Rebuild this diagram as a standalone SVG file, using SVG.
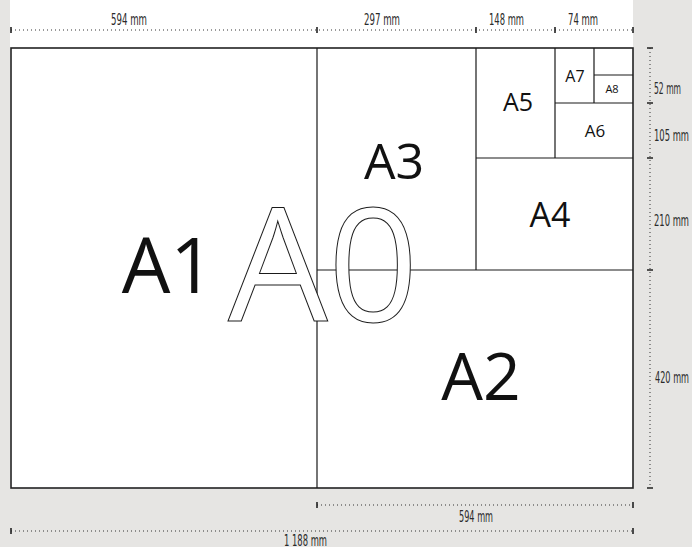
<svg xmlns="http://www.w3.org/2000/svg" width="692" height="547" viewBox="0 0 692 547">
<style>
.frame{fill:none;stroke:#222;stroke-width:1.6}
.div{stroke:#1a1a1a;stroke-width:1.2;fill:none}
.dot{stroke:#333;stroke-width:1;stroke-dasharray:1 3;fill:none}
.tick{stroke:#222;stroke-width:1.6}
.dim{font-family:"Liberation Sans Narrow","DejaVu Sans Condensed","DejaVu Sans",sans-serif;font-size:16px;fill:#2a2a2a}
.big{font-family:"Open Sans","Noto Sans",sans-serif;fill:#111;text-anchor:middle}
</style>
<rect x="0" y="0" width="692" height="547" fill="#e6e5e3"/>
<rect x="10" y="0" width="623" height="488" fill="#ffffff"/>
<g id="sheets">
<g id="A1"><text class="big" x="168" y="293" font-size="77">A1</text></g>
<g id="A3"><text class="big" x="394" y="179" font-size="50">A3</text></g>
<g id="A2"><text class="big" x="481" y="400" font-size="66">A2</text></g>
<g id="A4"><text class="big" x="550" y="227" font-size="34">A4</text></g>
<g id="A5"><text class="big" x="518" y="111" font-size="25">A5</text></g>
<g id="A6"><text class="big" x="595" y="137" font-size="17">A6</text></g>
<g id="A7"><text class="big" x="575" y="82" font-size="16">A7</text></g>
<g id="A8"><text class="big" x="612" y="93" font-size="11">A8</text></g>
</g>
<g id="connectors">
<rect class="frame" x="11" y="48" width="622" height="440"/>
<path class="div" d="M317 48V488M317 270H633M476 48V270M476 158H633M555 48V158M555 103H633M594 48V103M594 75H633"/>
</g>
<g id="A0"><text x="228" y="321" font-size="158" font-family="Open Sans,Noto Sans,sans-serif" fill="#fff" stroke="#1a1a1a" stroke-width="1">A0</text></g>
<g id="dimensions">
<path class="dot" d="M11 30H633M317 505H633M11 531H633M650 48V488"/>
<path class="tick" d="M11 27V33M317 27V33M476 27V33M555 27V33M633 27V33M317 502V508M633 502V508M11 528V534M633 528V534M647 48H653M647 103H653M647 158H653M647 270H653M647 488H653"/>
<text class="dim" x="111" y="25" textLength="36" lengthAdjust="spacingAndGlyphs">594 mm</text>
<text class="dim" x="364" y="25" textLength="36" lengthAdjust="spacingAndGlyphs">297 mm</text>
<text class="dim" x="489" y="25" textLength="35" lengthAdjust="spacingAndGlyphs">148 mm</text>
<text class="dim" x="568" y="25" textLength="30" lengthAdjust="spacingAndGlyphs">74 mm</text>
<text class="dim" x="654" y="94" textLength="27" lengthAdjust="spacingAndGlyphs">52 mm</text>
<text class="dim" x="654" y="141" textLength="35" lengthAdjust="spacingAndGlyphs">105 mm</text>
<text class="dim" x="654" y="226" textLength="35" lengthAdjust="spacingAndGlyphs">210 mm</text>
<text class="dim" x="655" y="383" textLength="34" lengthAdjust="spacingAndGlyphs">420 mm</text>
<text class="dim" x="459" y="522" textLength="34" lengthAdjust="spacingAndGlyphs">594 mm</text>
<text class="dim" x="284" y="546" textLength="43" lengthAdjust="spacingAndGlyphs">1 188 mm</text>
</g>
</svg>
